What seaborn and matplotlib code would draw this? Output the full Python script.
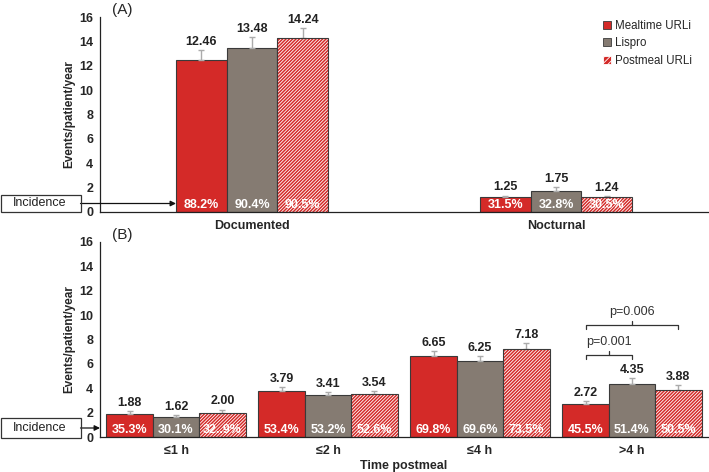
import numpy as np
import pandas as pd
import matplotlib
matplotlib.use("Agg")
import matplotlib.pyplot as plt
import seaborn as sns
from matplotlib.patches import Rectangle, Patch

# ---------------- data ----------------
groups = ["Mealtime URLi", "Lispro", "Postmeal URLi"]

cats_a = ["Documented", "Nocturnal"]
rate_a = {"Mealtime URLi": [12.46, 1.25], "Lispro": [13.48, 1.75], "Postmeal URLi": [14.24, 1.24]}
err_a = {"Mealtime URLi": [0.8, 0.1], "Lispro": [0.85, 0.3], "Postmeal URLi": [0.85, 0.1]}
inc_a = {"Mealtime URLi": ["88.2%", "31.5%"], "Lispro": ["90.4%", "32.8%"], "Postmeal URLi": ["90.5%", "30.5%"]}

cats_b = ["\u22641 h", "\u22642 h", "\u22644 h", ">4 h"]
rate_b = {"Mealtime URLi": [1.88, 3.79, 6.65, 2.72], "Lispro": [1.62, 3.41, 6.25, 4.35],
          "Postmeal URLi": [2.00, 3.54, 7.18, 3.88]}
err_b = {"Mealtime URLi": [0.25, 0.3, 0.4, 0.2], "Lispro": [0.2, 0.3, 0.4, 0.5],
         "Postmeal URLi": [0.25, 0.25, 0.5, 0.35]}
inc_b = {"Mealtime URLi": ["35.3%", "53.4%", "69.8%", "45.5%"],
         "Lispro": ["30.1%", "53.2%", "69.6%", "51.4%"],
         "Postmeal URLi": ["32..9%", "52.6%", "73.5%", "50.5%"]}

pvals = ["p=0.001", "p=0.006"]

# ---------------- style ----------------
sns.set_style("white")
plt.rcParams["font.family"] = ["Liberation Sans", "DejaVu Sans"]
plt.rcParams["hatch.linewidth"] = 0.6

RED = "#d42a28"
GRAY = "#857b72"
EDGE = "#3a3a3a"
ERR = "#ababab"
HATCH = "//////////"
palette = {"Mealtime URLi": RED, "Lispro": GRAY, "Postmeal URLi": RED}

fig = plt.figure(figsize=(7.09, 4.72), dpi=100)
W, H = 709, 472


def ax_rect(x0, x1, ytop, ybot):
    return [x0 / W, 1 - ybot / H, (x1 - x0) / W, (ybot - ytop) / H]


axA = fig.add_axes(ax_rect(100, 708, 17, 212))
axB = fig.add_axes(ax_rect(100, 708, 242, 437))


def make_df(cats, rate):
    rows = []
    for g in groups:
        for c, v in zip(cats, rate[g]):
            rows.append({"cat": c, "group": g, "rate": v})
    return pd.DataFrame(rows)


def draw_panel(ax, cats, rate, err, inc, width, letter):
    df = make_df(cats, rate)
    sns.barplot(data=df, x="cat", y="rate", hue="group", hue_order=groups, order=cats,
                palette=palette, width=width, errorbar=None, ax=ax, legend=False,
                edgecolor=EDGE, linewidth=0.8, saturation=1)
    centers = {}
    for gi, (g, cont) in enumerate(zip(groups, ax.containers)):
        for ci, bar in enumerate(cont.patches):
            x = bar.get_x() + bar.get_width() / 2
            h = bar.get_height()
            centers[(g, ci)] = (x, bar)
            if g == "Postmeal URLi":
                bar.set_hatch(HATCH)
                bar.set_edgecolor("white")
                bar.set_linewidth(0)
                ax.add_patch(Rectangle((bar.get_x(), 0), bar.get_width(), h, fill=False,
                                       edgecolor=EDGE, linewidth=0.8, zorder=bar.get_zorder() + 0.1))
            e = err[g][ci]
            ax.errorbar([x], [h], yerr=[[0], [e]], fmt="none", ecolor=ERR, elinewidth=1.0,
                        capsize=2.5, capthick=1.0, zorder=1)
            ax.annotate(f"{h:.2f}", (x, h + e), xytext=(0, 1.5), textcoords="offset points",
                        ha="center", va="bottom", fontsize=9, fontweight="bold", color="#222222")
            ax.text(x, 0.55, inc[g][ci], ha="center", va="center", fontsize=9,
                    fontweight="bold", color="white", zorder=5)
    n = len(cats)
    ax.set_xlim(-0.5, n - 0.5)
    ax.set_ylim(0, 16)
    ax.set_yticks(np.arange(0, 17, 2))
    ax.set_xticks(range(n))
    ax.set_xticklabels(cats, fontsize=9, fontweight="bold")
    ax.set_xticks(np.arange(0.5, n, 1.0), minor=True)
    ax.tick_params(axis="x", which="major", length=0, pad=6)
    ax.tick_params(axis="x", which="minor", length=4, width=0.8, direction="out", color="#222222")
    ax.tick_params(axis="y", length=3, width=0.8, direction="out", color="#222222", pad=2,
                   labelsize=9)
    for lab in ax.get_yticklabels():
        lab.set_fontweight("bold")
    for s in ["top", "right"]:
        ax.spines[s].set_visible(False)
    for s in ["left", "bottom"]:
        ax.spines[s].set_color("#222222")
        ax.spines[s].set_linewidth(0.9)
    ax.set_ylabel("Events/patient/year", fontsize=8.5, fontweight="bold", labelpad=3)
    ax.set_xlabel("")
    ax.text(0.02, 1.0, letter, transform=ax.transAxes, ha="left", va="bottom", fontsize=11)
    return centers


cA = draw_panel(axA, cats_a, rate_a, err_a, inc_a, 0.5, "(A)")
cB = draw_panel(axB, cats_b, rate_b, err_b, inc_b, 0.915, "(B)")
axB.set_xlabel("Time postmeal", fontsize=9, fontweight="bold", labelpad=2)

# legend
handles = [Patch(facecolor=RED, edgecolor=EDGE, linewidth=0.6),
           Patch(facecolor=GRAY, edgecolor=EDGE, linewidth=0.6),
           Patch(facecolor=RED, edgecolor="white", hatch="//////", linewidth=0.6)]
leg = axA.legend(handles, groups, loc="upper left", bbox_to_anchor=(0.82, 1.01), frameon=False,
                 fontsize=8.3, handlelength=0.7, handleheight=0.7, handletextpad=0.3,
                 labelspacing=0.5, borderaxespad=0)

# p-value brackets in >4 h
xm = cB[("Mealtime URLi", 3)][0]
xl = cB[("Lispro", 3)][0]
xp = cB[("Postmeal URLi", 3)][0]
for (x0, x1, yb, lab) in [(xm, xl, 6.75, pvals[0]), (xm, xp, 9.2, pvals[1])]:
    axB.plot([x0, x0, x1, x1], [yb - 0.35, yb, yb, yb - 0.35], color="#333333", lw=0.9)
    axB.plot([(x0 + x1) / 2] * 2, [yb, yb + 0.3], color="#333333", lw=0.9)
    axB.text((x0 + x1) / 2, yb + 0.55, lab, ha="center", va="bottom", fontsize=9, color="#333333")

# Incidence boxes with arrows
for ax, ytop, ybot, target in [(axA, 195, 212, cA[("Mealtime URLi", 0)][1].get_x()),
                               (axB, 418, 438, -0.5)]:
    box = Rectangle((0.5 / W, 1 - ybot / H), 80 / W, (ybot - ytop) / H, transform=fig.transFigure,
                    fill=False, edgecolor="#333333", linewidth=0.9)
    fig.patches.append(box)
    ym = 1 - ((ytop + ybot) / 2) / H
    fig.text(40 / W, ym, "Incidence", ha="center", va="center", fontsize=9, color="#222222")
    yd = ax.transData.inverted().transform(fig.transFigure.transform((0, ym)))[1]
    ax.annotate("", xy=(target, yd), xycoords="data", xytext=(80.5 / W, ym),
                textcoords="figure fraction",
                arrowprops=dict(arrowstyle="-|>", color="#111111", lw=0.9, mutation_scale=8,
                                shrinkA=0, shrinkB=0), annotation_clip=False)

fig.savefig("out.png", dpi=100)
